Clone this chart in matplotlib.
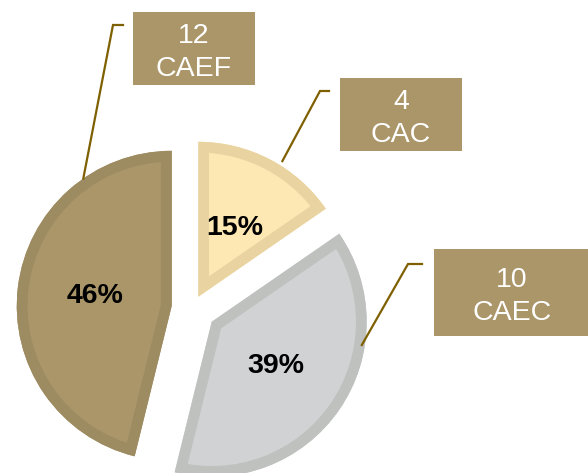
import numpy as np
import matplotlib
matplotlib.use("Agg")
import matplotlib.pyplot as plt
from matplotlib.patches import Rectangle, Wedge

plt.rcParams['font.family'] = ['Liberation Sans', 'DejaVu Sans']

# ---- data ----
categories = ["CAC", "CAEC", "CAEF"]
counts = [4, 10, 12]
pct_labels = ["15%", "39%", "46%"]

# ---- style ----
fills = ["#FDE8B4", "#D1D2D4", "#AB9669"]
edges = ["#E8D3A1", "#BFC1BF", "#9D8B61"]
box_color = "#AB9669"
leader_color = "#7F6000"

W, H = 588, 473
fig = plt.figure(figsize=(W / 100, H / 100), dpi=100)
ax = fig.add_axes([0, 0, 1, 1])

def Y(y):
    return H - y

center = (192.2, Y(308.3))
radius = 155
explode = [13, 23.7, 20.6]  # absolute offset in data units (pixels)

wedges, texts = ax.pie(
    counts, colors=fills, startangle=90, counterclock=False,
    explode=explode, center=center, radius=radius,
    wedgeprops=dict(linewidth=0, edgecolor="none"),
    frame=True)
ax.set_xlim(0, W)
ax.set_ylim(0, H)
ax.set_aspect("auto")
ax.axis("off")

for w, ec, lab in zip(wedges, edges, pct_labels):
    # inner border: stroke the same outline and clip it to the wedge
    border = ax.add_patch(Wedge(w.center, w.r, w.theta1, w.theta2, facecolor="none",
                                edgecolor=ec, linewidth=15.5, joinstyle="miter"))
    border.set_clip_path(w.get_path(), ax.transData)
    cx, cy = w.center
    mid = np.radians((w.theta1 + w.theta2) / 2)
    ax.text(cx + 0.5 * w.r * np.cos(mid), cy + 0.5 * w.r * np.sin(mid), lab,
            ha="center", va="center", fontsize=20.5, fontweight="bold", color="black")

# ---- label boxes (layout in pixel coords: x0, y0, x1, y1) ----
boxes = [(340, 78, 462, 151), (434, 249, 592, 336), (133, 12, 255, 85)]
# leader: start angle on wedge edge (deg), radius factor, elbow point, end point
leaders = [(58.2, 1.03, (320, 91), (329, 91)),
           (-8.8, 0.98, (408, 264), (422, 264)),
           (124.8, 1.0, (113, 25), (123, 25))]

for w, cat, n, (x0, y0, x1, y1), (ang, rf, elb, end) in zip(wedges, categories, counts, boxes, leaders):
    ax.add_patch(Rectangle((x0, Y(y1)), x1 - x0, y1 - y0, facecolor=box_color,
                           edgecolor="none", clip_on=False))
    tx = (x0 + x1) / 2 if x1 <= W else (x0 + W) / 2 + 1
    ax.text(tx, Y((y0 + y1) / 2 + 4), "%d\n%s" % (n, cat), ha="center", va="center",
            color="white", fontsize=20.5, linespacing=1.36)
    cx, cy = w.center
    r = w.r * rf
    sx = cx + r * np.cos(np.radians(ang))
    sy = cy + r * np.sin(np.radians(ang))
    ax.plot([sx, elb[0], end[0]], [sy, Y(elb[1]), Y(end[1])], color=leader_color,
            linewidth=1.6, solid_joinstyle="miter")

fig.savefig("out.png", dpi=100)
